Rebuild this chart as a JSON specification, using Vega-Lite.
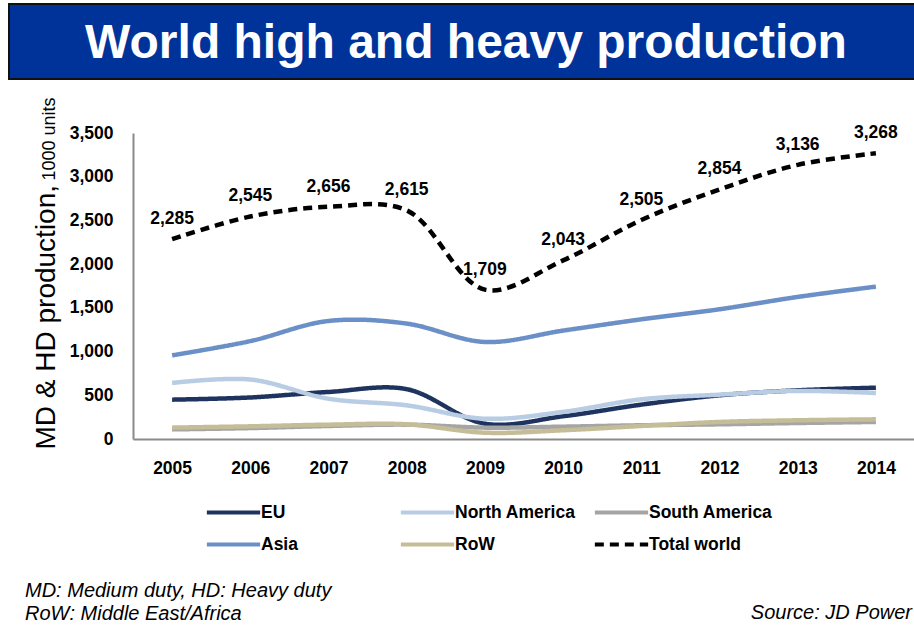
{
  "$schema": "https://vega.github.io/schema/vega-lite/v6.json",
  "padding": {"left": 8, "top": 3, "right": 0, "bottom": 0},
  "background": "white",
  "config": {
    "font": "Liberation Sans",
    "view": {"stroke": null}
  },
  "title": {
    "text": ["MD: Medium duty, HD: Heavy duty", "RoW: Middle East/Africa"],
    "orient": "bottom",
    "anchor": "start",
    "fontSize": 20,
    "fontStyle": "italic",
    "fontWeight": "normal",
    "color": "black",
    "lineHeight": 23,
    "dx": 17,
    "offset": -42
  },
  "datasets": {
    "prod": [
      {"year": "2005", "region": "EU", "value": 450},
      {"year": "2006", "region": "EU", "value": 475},
      {"year": "2007", "region": "EU", "value": 538},
      {"year": "2008", "region": "EU", "value": 570},
      {"year": "2009", "region": "EU", "value": 175},
      {"year": "2010", "region": "EU", "value": 260},
      {"year": "2011", "region": "EU", "value": 393},
      {"year": "2012", "region": "EU", "value": 500},
      {"year": "2013", "region": "EU", "value": 557},
      {"year": "2014", "region": "EU", "value": 587},
      {"year": "2005", "region": "North America", "value": 641},
      {"year": "2006", "region": "North America", "value": 680},
      {"year": "2007", "region": "North America", "value": 461},
      {"year": "2008", "region": "North America", "value": 385},
      {"year": "2009", "region": "North America", "value": 232},
      {"year": "2010", "region": "North America", "value": 310},
      {"year": "2011", "region": "North America", "value": 454},
      {"year": "2012", "region": "North America", "value": 507},
      {"year": "2013", "region": "North America", "value": 550},
      {"year": "2014", "region": "North America", "value": 526},
      {"year": "2005", "region": "South America", "value": 110},
      {"year": "2006", "region": "South America", "value": 125},
      {"year": "2007", "region": "South America", "value": 149},
      {"year": "2008", "region": "South America", "value": 164},
      {"year": "2009", "region": "South America", "value": 130},
      {"year": "2010", "region": "South America", "value": 141},
      {"year": "2011", "region": "South America", "value": 157},
      {"year": "2012", "region": "South America", "value": 168},
      {"year": "2013", "region": "South America", "value": 183},
      {"year": "2014", "region": "South America", "value": 195},
      {"year": "2005", "region": "Asia", "value": 957},
      {"year": "2006", "region": "Asia", "value": 1120},
      {"year": "2007", "region": "Asia", "value": 1350},
      {"year": "2008", "region": "Asia", "value": 1320},
      {"year": "2009", "region": "Asia", "value": 1110},
      {"year": "2010", "region": "Asia", "value": 1240},
      {"year": "2011", "region": "Asia", "value": 1369},
      {"year": "2012", "region": "Asia", "value": 1484},
      {"year": "2013", "region": "Asia", "value": 1625},
      {"year": "2014", "region": "Asia", "value": 1743},
      {"year": "2005", "region": "RoW", "value": 130},
      {"year": "2006", "region": "RoW", "value": 145},
      {"year": "2007", "region": "RoW", "value": 164},
      {"year": "2008", "region": "RoW", "value": 168},
      {"year": "2009", "region": "RoW", "value": 72},
      {"year": "2010", "region": "RoW", "value": 100},
      {"year": "2011", "region": "RoW", "value": 149},
      {"year": "2012", "region": "RoW", "value": 195},
      {"year": "2013", "region": "RoW", "value": 214},
      {"year": "2014", "region": "RoW", "value": 225},
      {"year": "2005", "region": "Total world", "value": 2285},
      {"year": "2006", "region": "Total world", "value": 2545},
      {"year": "2007", "region": "Total world", "value": 2656},
      {"year": "2008", "region": "Total world", "value": 2615},
      {"year": "2009", "region": "Total world", "value": 1709},
      {"year": "2010", "region": "Total world", "value": 2043},
      {"year": "2011", "region": "Total world", "value": 2505},
      {"year": "2012", "region": "Total world", "value": 2854},
      {"year": "2013", "region": "Total world", "value": 3136},
      {"year": "2014", "region": "Total world", "value": 3268}
    ],
    "banner": [{"t": "World high and heavy production"}]
  },
  "spacing": 16,
  "vconcat": [
    {
      "width": 906,
      "height": 75,
      "view": {"fill": "#003399", "stroke": "#111111", "strokeWidth": 2},
      "data": {"name": "banner"},
      "mark": {"type": "text", "fontSize": 48, "fontWeight": "bold", "color": "white", "dy": 2, "dx": 4},
      "encoding": {"text": {"field": "t", "type": "nominal"}}
    },
    {
      "width": 906,
      "height": 306,
      "view": {"stroke": null},
      "data": {"name": "prod"},
      "title": {
        "text": "Source: JD Power",
        "orient": "bottom",
        "anchor": "end",
        "frame": "group",
        "fontSize": 20,
        "fontStyle": "italic",
        "fontWeight": "normal",
        "color": "black",
        "dx": -3,
        "offset": 126
      },
      "encoding": {
        "x": {
          "field": "year",
          "type": "ordinal",
          "scale": {"type": "point", "padding": 0.5, "range": [124, 906]},
          "axis": {
            "title": null,
            "labelAngle": 0,
            "labelFontSize": 17.5,
            "labelFontWeight": "bold",
            "labelColor": "black",
            "labelPadding": 20,
            "ticks": false,
            "tickSize": 0,
            "domainColor": "#8a8a8a",
            "domainWidth": 2
          }
        }
      },
      "layer": [
        {
          "mark": {"type": "line", "interpolate": "catmull-rom", "strokeWidth": 4.5},
          "encoding": {
            "y": {
              "field": "value",
              "type": "quantitative",
              "scale": {"domain": [0, 3500], "nice": false},
              "axis": {
                "offset": -124,
                "values": [0, 500, 1000, 1500, 2000, 2500, 3000, 3500],
                "format": ",d",
                "grid": false,
                "ticks": false,
                "tickSize": 0,
                "labelFontSize": 17.5,
                "labelFontWeight": "bold",
                "labelColor": "black",
                "labelPadding": 20,
                "domainColor": "#8a8a8a",
                "domainWidth": 2,
                "title": "MD & HD production,",
                "titleFontSize": 28,
                "titleFontWeight": "normal",
                "titleColor": "black",
                "titleAngle": -90,
                "titleAlign": "left",
                "titleBaseline": "alphabetic",
                "titleX": -79,
                "titleY": 316
              }
            },
            "color": {
              "field": "region",
              "type": "nominal",
              "scale": {
                "domain": ["EU", "North America", "South America", "Asia", "RoW", "Total world"],
                "range": ["#1f335f", "#b8cce4", "#a5a5a5", "#6b8fc7", "#c4bd97", "#000000"]
              },
              "legend": {
                "title": null,
                "orient": "none",
                "legendX": 202,
                "legendY": 486,
                "direction": "horizontal",
                "columns": 3,
                "symbolType": "M-1.3,0H1.3",
                "symbolSize": 1681,
                "symbolStrokeWidth": 4,
                "labelFontSize": 17.5,
                "labelFontWeight": "bold",
                "labelColor": "black",
                "labelOffset": 5,
                "labelLimit": 300,
                "columnPadding": 7,
                "rowPadding": 1,
                "gridAlign": "all"
              }
            },
            "strokeDash": {
              "field": "region",
              "type": "nominal",
              "scale": {
                "domain": ["EU", "North America", "South America", "Asia", "RoW", "Total world"],
                "range": [[1, 0], [1, 0], [1, 0], [1, 0], [1, 0], [9, 6]]
              },
              "legend": {
                "title": null,
                "orient": "none",
                "legendX": 202,
                "legendY": 486,
                "direction": "horizontal",
                "columns": 3,
                "symbolType": "M-1.3,0H1.3",
                "symbolSize": 1681,
                "symbolStrokeWidth": 4,
                "labelFontSize": 17.5,
                "labelFontWeight": "bold",
                "labelColor": "black",
                "labelOffset": 5,
                "labelLimit": 300,
                "columnPadding": 7,
                "rowPadding": 1,
                "gridAlign": "all"
              }
            }
          }
        },
        {
          "transform": [{"filter": "datum.region === 'Total world'"}],
          "mark": {"type": "text", "fontSize": 17.5, "fontWeight": "bold", "color": "black", "baseline": "alphabetic", "dy": -15},
          "encoding": {
            "y": {
              "field": "value",
              "type": "quantitative",
              "scale": {"domain": [0, 3500], "nice": false},
              "axis": {
                "orient": "left",
                "offset": -124,
                "labels": false,
                "ticks": false,
                "domain": false,
                "grid": false,
                "title": "1000 units",
                "titleFontSize": 18,
                "titleFontWeight": "normal",
                "titleColor": "black",
                "titleAngle": -90,
                "titleAlign": "left",
                "titleBaseline": "alphabetic",
                "titleX": -78.5,
                "titleY": 47
              }
            },
            "text": {"field": "value", "type": "quantitative", "format": ","}
          }
        }
      ],
      "resolve": {"axis": {"y": "independent"}}
    }
  ]
}
